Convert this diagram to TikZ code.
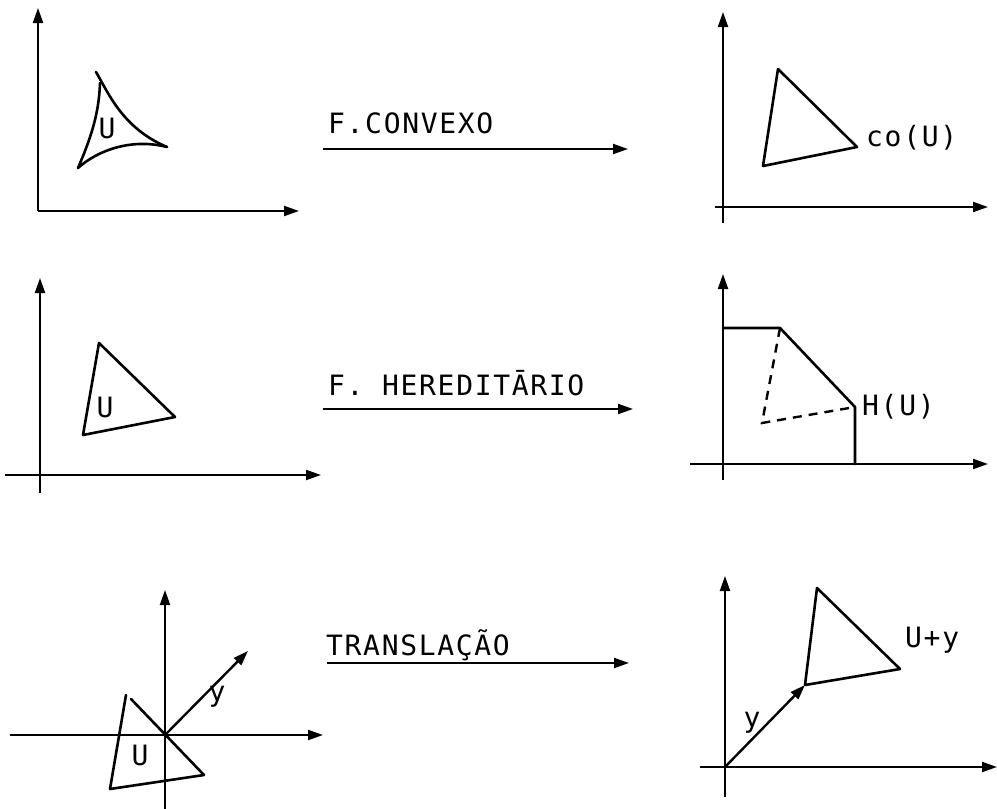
\documentclass[tikz,border=0pt]{standalone}
\usepackage{fontspec}
\newfontfamily\tw[LetterSpace=6]{DejaVu Sans Mono}
\usetikzlibrary{arrows.meta}
\begin{document}
\begin{tikzpicture}[x=1pt,y=-1pt,
  ax/.style={line width=2pt,-{Triangle[length=15pt,width=10pt]}},
  shp/.style={line width=2.6pt,line join=round,line cap=round},
  dsh/.style={line width=2.4pt,dash pattern=on 9pt off 7pt},
  lbl/.style={font=\tw\fontsize{28}{28}\selectfont,inner sep=0pt},
  ]
\useasboundingbox (0,0) rectangle (997,809);

% ---------- panel 1 (top-left)
\coordinate (o1) at (38,211);
\coordinate (y1) at (38,8);
\coordinate (x1) at (299,211);
\draw[ax] (o1) -- (y1);
\draw[ax] (o1) -- (x1);
\coordinate (c1a) at (96,72);
\coordinate (c1b) at (100,83);
\coordinate (c1c) at (78,168);
\coordinate (c1d) at (167,147);
\draw[shp] (c1a) .. controls (108,92) and (122,128) .. (c1d);
\draw[shp] (c1b) .. controls (99,115) and (90,140) .. (c1c)
  .. controls (98,150) and (132,138) .. (c1d);
\node[lbl,anchor=center] (u1) at (107,128) {U};

% ---------- arrow 1
\coordinate (a1s) at (323,149);
\coordinate (a1e) at (628,149);
\draw[ax] (a1s) -- (a1e);
\node[lbl,anchor=base west] (t1) at (328,133) {F.CONVEXO};

% ---------- panel 2 (top-right)
\coordinate (o2) at (723,207);
\coordinate (o2b) at (723,223);
\coordinate (y2) at (723,12);
\coordinate (o2l) at (715,207);
\coordinate (x2) at (988,207);
\draw[line width=2pt] (o2b) -- (o2);
\draw[ax] (o2) -- (y2);
\draw[ax] (o2l) -- (x2);
\coordinate (p2a) at (778,69);
\coordinate (p2b) at (857,147);
\coordinate (p2c) at (763,166);
\draw[shp] (p2a) -- (p2b) -- (p2c) -- cycle;
\node[lbl,anchor=base west] (co) at (866,146) {co(U)};

% ---------- panel 3 (middle-left)
\coordinate (o3) at (40,475);
\coordinate (o3b) at (40,493);
\coordinate (y3) at (40,278);
\coordinate (o3l) at (5,475);
\coordinate (x3) at (321,475);
\draw[line width=2pt] (o3b) -- (o3);
\draw[ax] (o3) -- (y3);
\draw[ax] (o3l) -- (x3);
\coordinate (p3a) at (99,343);
\coordinate (p3b) at (175,417);
\coordinate (p3c) at (83,435);
\draw[shp] (p3a) -- (p3b) -- (p3c) -- cycle;
\node[lbl,anchor=center] (u3) at (105,407) {U};

% ---------- arrow 2
\coordinate (a2s) at (323,409);
\coordinate (a2e) at (633,409);
\draw[ax] (a2s) -- (a2e);
\node[lbl,anchor=base west] (t2) at (328,395) {F. HEREDITĀRIO};

% ---------- panel 4 (middle-right)
\coordinate (o4) at (723,464);
\coordinate (o4b) at (723,480);
\coordinate (y4) at (723,274);
\coordinate (o4l) at (690,464);
\coordinate (x4) at (988,464);
\draw[line width=2pt] (o4b) -- (o4);
\draw[ax] (o4) -- (y4);
\draw[ax] (o4l) -- (x4);
\coordinate (h1) at (723,328);
\coordinate (h2) at (780,328);
\coordinate (h3) at (855,407);
\coordinate (h4) at (855,464);
\coordinate (h5) at (762,423);
\draw[shp] (h1) -- (h2) -- (h3) -- (h4);
\draw[dsh] (h2) -- (h5) -- (h3);
\node[lbl,anchor=base west] (hu) at (862,415) {H(U)};

% ---------- panel 5 (bottom-left)
\coordinate (o5) at (165,735);
\coordinate (o5b) at (165,809);
\coordinate (y5) at (165,590);
\coordinate (o5l) at (10,735);
\coordinate (x5) at (323,735);
\draw[line width=2pt] (o5b) -- (o5);
\draw[ax] (o5) -- (y5);
\draw[ax] (o5l) -- (x5);
\coordinate (v5) at (248,651);
\draw[line width=2.4pt,-{Triangle[length=15pt,width=10pt]}] (o5) -- (v5);
\node[lbl,anchor=center] (yv5) at (217,697) {y};
\coordinate (p5a) at (126,695);
\coordinate (p5a2) at (131,699);
\coordinate (p5b) at (204,775);
\coordinate (p5c) at (110,789);
\draw[shp] (p5a) -- (p5c) -- (p5b) -- (p5a2);
\node[lbl,anchor=center] (u5) at (140,755) {U};

% ---------- arrow 3
\coordinate (a3s) at (327,663);
\coordinate (a3e) at (629,663);
\draw[ax] (a3s) -- (a3e);
\node[lbl,anchor=base west] (t3) at (326,655) {TRANSLAÇÃO};

% ---------- panel 6 (bottom-right)
\coordinate (o6) at (725,767);
\coordinate (o6b) at (725,797);
\coordinate (y6) at (725,576);
\coordinate (o6l) at (700,767);
\coordinate (x6) at (997,767);
\draw[line width=2pt] (o6b) -- (o6);
\draw[ax] (o6) -- (y6);
\draw[ax] (o6l) -- (x6);
\coordinate (q1) at (805,685);
\coordinate (q2) at (817,588);
\coordinate (q3) at (900,669);
\draw[line width=2.4pt,-{Triangle[length=15pt,width=10pt]}] (o6) -- (q1);
\draw[shp] (q1) -- (q2) -- (q3) -- cycle;
\node[lbl,anchor=center] (yv6) at (752,723) {y};
\node[lbl,anchor=base west] (uy) at (905,647) {U+y};
\end{tikzpicture}
\end{document}
